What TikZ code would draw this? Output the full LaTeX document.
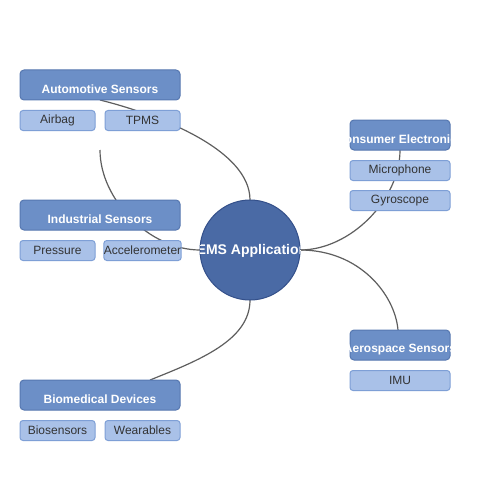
\documentclass[tikz,border=0pt]{standalone}
\usepackage{fontspec}
\setmainfont{Liberation Sans}
\definecolor{catfill}{HTML}{6C8FC7}
\definecolor{catdraw}{HTML}{5677B0}
\definecolor{subfill}{HTML}{A9C1E8}
\definecolor{subdraw}{HTML}{7E9FD6}
\definecolor{hubfill}{HTML}{4A6AA5}
\definecolor{hubdraw}{HTML}{34508A}
\definecolor{edgecol}{HTML}{5E5E5E}
\definecolor{subtext}{HTML}{333333}
\begin{document}
\begin{tikzpicture}[x=1pt,y=-1pt,
  catbox/.style={draw=catdraw,fill=catfill,line width=1pt,rounded corners=4pt,minimum width=160pt,minimum height=30pt,inner sep=0pt},
  catnarrow/.style={catbox,minimum width=100pt},
  cattext/.style={text=white,font=\fontsize{12}{14}\selectfont\bfseries,inner sep=0pt},
  hubtext/.style={text=white,font=\fontsize{14}{16}\selectfont\bfseries,inner sep=0pt},
  subbox/.style={draw=subdraw,fill=subfill,line width=1pt,rounded corners=3pt,minimum width=75pt,minimum height=20pt,inner sep=0pt,text=subtext,font=\fontsize{12}{14}\selectfont},
  subwide/.style={subbox,minimum width=100pt},
  hub/.style={circle,draw=hubdraw,fill=hubfill,line width=1pt,minimum size=100pt,inner sep=0pt},
  link/.style={draw=edgecol,line width=1.2pt}
]
\useasboundingbox[fill=white] (0,0) rectangle (500,500);
% hub
\coordinate (hc) at (250,250);
% edges (behind nodes)
\coordinate (autoEnd) at (100,100);
\coordinate (indEnd) at (100,150);
\coordinate (consEnd) at (400,150);
\coordinate (aeroEnd) at (398,330);
\coordinate (bioEnd) at (150,380);
\coordinate (hubT) at (250,200);
\coordinate (hubL) at (200,250);
\coordinate (hubR) at (300,250);
\coordinate (hubB) at (250,300);
\draw[link] (hubT) .. controls (250,150) and (160,115) .. (autoEnd);
\draw[link] (hubL) .. controls (150,250) and (100,200) .. (indEnd);
\draw[link] (hubR) .. controls (350,250) and (400,200) .. (consEnd);
\draw[link] (hubR) .. controls (360,250) and (395,295) .. (aeroEnd);
\draw[link] (hubB) .. controls (250,340) and (200,360) .. (bioEnd);
% hub node
\node[hub] (hub) at (hc) {};
\begin{scope}
\clip (hc) circle (50pt);
\node[hubtext] at (250,250.5) {MEMS Applications};
\end{scope}
% Automotive
\node[catbox] (auto) at (100,85) {};
\node[cattext] (autoT) at (100,89.5) {Automotive Sensors};
\node[subbox] (airbag) at (57.5,120.5) {Airbag};
\node[subbox] (tpms) at (142.5,120.5) {TPMS};
% Industrial
\node[catbox] (ind) at (100,215) {};
\node[cattext] (indT) at (100,219.5) {Industrial Sensors};
\node[subbox] (press) at (57.5,250.5) {Pressure};
\node[subbox] (accel) at (142.5,250.5) {Accelerometer};
% Biomedical
\node[catbox] (bio) at (100,395) {};
\node[cattext] (bioT) at (100,399.5) {Biomedical Devices};
\node[subbox] (biosens) at (57.5,430.5) {Biosensors};
\node[subbox] (wear) at (142.5,430.5) {Wearables};
% Consumer
\node[catnarrow] (cons) at (400,135) {};
\begin{scope}
\clip (cons.south west) rectangle (cons.north east);
\node[cattext] (consT) at (400,139.5) {Consumer Electronics};
\end{scope}
\node[subwide] (mic) at (400,170.5) {Microphone};
\node[subwide] (gyro) at (400,200.5) {Gyroscope};
% Aerospace
\node[catnarrow] (aero) at (400,345) {};
\begin{scope}
\clip (aero.south west) rectangle (aero.north east);
\node[cattext] (aeroT) at (400,349.5) {Aerospace Sensors};
\end{scope}
\node[subwide] (imu) at (400,380.5) {IMU};
\end{tikzpicture}
\end{document}
